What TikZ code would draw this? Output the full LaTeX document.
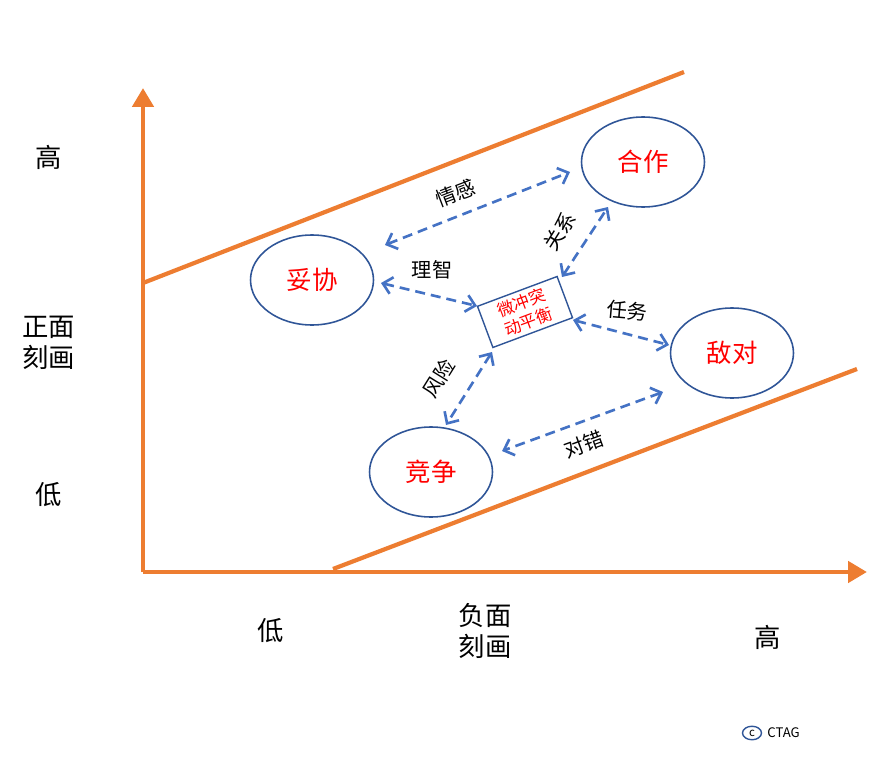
\documentclass[tikz,border=0pt]{standalone}
\usepackage{fontspec}
\setmainfont{Noto Sans CJK SC}
\usetikzlibrary{arrows.meta,shapes.geometric}
\definecolor{axorange}{HTML}{ED7D31}
\definecolor{arrblue}{HTML}{4472C4}
\definecolor{ringblue}{HTML}{2F5597}
\definecolor{txtred}{HTML}{FF0000}
\tikzset{
  axis/.style={line width=2.8pt, draw=axorange, -{Triangle[width=0.42cm,length=0.38cm]}},
  bound/.style={line width=2.4pt, draw=axorange},
  stance/.style={ellipse, draw=ringblue, line width=0.9pt, minimum width=2.46cm, minimum height=1.8cm, text=txtred, font=\fontsize{14.5}{16}\selectfont},
  link/.style={draw=arrblue, line width=1.5pt, dash pattern=on 0.2cm off 0.12cm, {Straight Barb[length=0.18cm,width=0.34cm]}-{Straight Barb[length=0.18cm,width=0.34cm]}},
  lbl/.style={font=\fontsize{11.5}{13}\selectfont, inner sep=1pt},
  axlbl/.style={font=\fontsize{15}{17.5}\selectfont, align=center, inner sep=1pt},
}
\begin{document}
\begin{tikzpicture}[x=0.02cm,y=-0.02cm]
\useasboundingbox (0,0) rectangle (896,757);
% axes
\coordinate (O) at (143,572);
\coordinate (ytip) at (143,88);
\coordinate (xtip) at (867,572);
\draw[axis] (O) -- (ytip);
\draw[axis] (O) -- (xtip);
% boundary lines
\coordinate (u1) at (143,283);
\coordinate (u2) at (684,72);
\coordinate (l1) at (333,569);
\coordinate (l2) at (857,369);
\draw[bound] (u1) -- (u2);
\draw[bound] (l1) -- (l2);
% axis labels
\node[axlbl] (yh) at (49,157) {高};
\node[axlbl] (ym) at (49,343) {正面\\刻画};
\node[axlbl] (yl) at (49,495) {低};
\node[axlbl] (xl) at (271,631) {低};
\node[axlbl] (xm) at (485,631) {负面\\刻画};
\node[axlbl] (xh) at (768,637) {高};
% ellipses
\node[stance] (hz) at (643,162) {合作};
\node[stance] (tx) at (312,280) {妥协};
\node[stance] (dd) at (732,353) {敌对};
\node[stance] (jz) at (431,472) {竞争};
% center box
\node[draw=ringblue, line width=0.8pt, rotate=20.5, minimum width=1.7cm, minimum height=0.88cm, align=center, text=txtred, font=\fontsize{9.5}{11.5}\selectfont, inner sep=0.5pt] (c) at (525,312) {微冲突\\动平衡};
% connector ends
\coordinate (a1) at (385,245); \coordinate (a2) at (570,172);
\coordinate (b1) at (381,283); \coordinate (b2) at (477,306);
\coordinate (g1) at (562,277); \coordinate (g2) at (608,207);
\coordinate (r1) at (573,320); \coordinate (r2) at (669,345);
\coordinate (f1) at (492,352); \coordinate (f2) at (446,425);
\coordinate (d1) at (663,392); \coordinate (d2) at (502,451);
\draw[link] (a1) -- (a2);
\draw[link] (b1) -- (b2);
\draw[link] (g1) -- (g2);
\draw[link] (r1) -- (r2);
\draw[link] (f1) -- (f2);
\draw[link] (d1) -- (d2);
% connector labels
\node[lbl, rotate=21] (qg) at (456,193) {情感};
\node[lbl] (lz) at (432,270) {理智};
\node[lbl, rotate=58] (gx) at (560,231) {关系};
\node[lbl, rotate=-5] (rw) at (627,311) {任务};
\node[lbl, rotate=58] (fx) at (439,378) {风险};
\node[lbl, rotate=20] (dc) at (584,444) {对错};
% mark
\node[ellipse, draw=ringblue, line width=0.8pt, minimum width=0.38cm, minimum height=0.27cm, inner sep=0pt, font=\fontsize{6.5}{7}\selectfont] (cm) at (752,733) {c};
\node[font=\fontsize{7.5}{8}\selectfont, anchor=west, inner sep=0pt] (ctag) at (767,733) {CTAG};
\end{tikzpicture}
\end{document}
